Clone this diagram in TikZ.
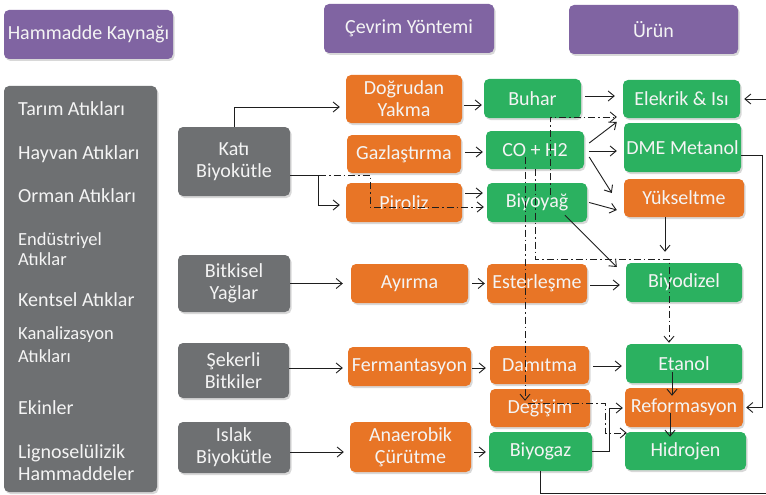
\documentclass[tikz,border=0pt]{standalone}
\usepackage{fontspec}
\setmainfont{Carlito}
\usetikzlibrary{arrows.meta,shadows}
\definecolor{hdr}{RGB}{128,100,162}
\definecolor{gry}{RGB}{110,112,114}
\definecolor{org}{RGB}{232,117,38}
\definecolor{grn}{RGB}{43,177,96}
\definecolor{txt}{RGB}{244,244,244}
\definecolor{lin}{RGB}{30,30,30}
\tikzset{
  box/.style={rounded corners=5pt, inner sep=0pt, align=center, text=txt,
    font=\fontsize{20}{22}\selectfont,
    drop shadow={shadow xshift=1.5pt, shadow yshift=-2pt, opacity=0.3}},
  hbox/.style={box, fill=hdr},
  gbox/.style={box, fill=gry},
  obox/.style={box, fill=org},
  gnbox/.style={box, fill=grn},
  arr/.style={draw=lin, line width=0.9pt, -{Straight Barb[length=6pt,width=10pt]}},
  dd/.style={arr, dash pattern=on 7pt off 3pt on 1.5pt off 3pt},
  item/.style={anchor=base west, text=txt, inner sep=0pt, font=\fontsize{20}{22}\selectfont},
  itemsm/.style={item, font=\fontsize{18.5}{20}\selectfont},
}
\begin{document}
\begin{tikzpicture}[x=1pt, y=-1pt]
\fill[white] (0,0) rectangle (766,495);
\useasboundingbox (0,0) rectangle (766,495);

% headers
\node[hbox, minimum width=169, minimum height=49] (hk) at (88.5,34.5) {Hammadde Kaynağı};
\node[hbox, minimum width=170, minimum height=49] (cy) at (409,28.5) {Çevrim Yöntemi};
\node[hbox, minimum width=169, minimum height=49] (ur) at (653.5,29.5) {Ürün};

% raw material list
\node[gbox, minimum width=153, minimum height=406] (list) at (80.5,289) {};
\node[item] (i1) at (18,115) {Tarım Atıkları};
\node[item] (i2) at (18,159) {Hayvan Atıkları};
\node[item] (i3) at (18,202) {Orman Atıkları};
\node[itemsm] (i4a) at (18,245) {Endüstriyel};
\node[itemsm] (i4b) at (18,265) {Atıklar};
\node[item] (i5) at (18,306) {Kentsel Atıklar};
\node[itemsm] (i6a) at (18,339) {Kanalizasyon};
\node[itemsm] (i6b) at (18,362) {Atıkları};
\node[item] (i7) at (18,414) {Ekinler};
\node[item] (i8a) at (18,458) {Lignoselülizik};
\node[item] (i8b) at (18,480) {Hammaddeler};

% sources
\node[gbox, minimum width=112, minimum height=69] (kati) at (234,161.5) {Katı\\Biyokütle};
\node[gbox, minimum width=112, minimum height=57] (bitk) at (234,283.5) {Bitkisel\\Yağlar};
\node[gbox, minimum width=111, minimum height=55] (seker) at (233.5,370.5) {Şekerli\\Bitkiler};
\node[gbox, minimum width=112, minimum height=51] (islak) at (234,447.5) {Islak\\Biyokütle};

% conversion (orange)
\node[obox, minimum width=116, minimum height=48] (dy) at (404,99) {Doğrudan\\Yakma};
\node[obox, minimum width=114, minimum height=38] (gaz) at (404,154) {Gazlaştırma};
\node[obox, minimum width=116, minimum height=39] (pir) at (404,202.5) {Piroliz};
\node[obox, minimum width=117, minimum height=39] (ayr) at (409.5,283.5) {Ayırma};
\node[obox, minimum width=123, minimum height=39] (ferm) at (409.5,366.5) {Fermantasyon};
\node[obox, minimum width=121, minimum height=50] (anae) at (410.5,447) {Anaerobik\\Çürütme};
\node[obox, minimum width=100, minimum height=39] (est) at (537,283.5) {Esterleşme};
\node[obox, minimum width=99, minimum height=38] (dam) at (539.5,365) {Damıtma};
\node[obox, minimum width=100, minimum height=38] (deg) at (540,408) {Değişim};
\node[obox, minimum width=120, minimum height=38] (yuk) at (684,198) {Yükseltme};
\node[obox, minimum width=118, minimum height=39] (ref) at (684,407.5) {Reformasyon};

% products (green)
\node[gnbox, minimum width=97, minimum height=39] (buh) at (532.5,98.5) {Buhar};
\node[gnbox, minimum width=98, minimum height=38] (co) at (535,150) {CO + H2};
\node[gnbox, minimum width=100, minimum height=39] (biyo) at (537,202.5) {Biyoyağ};
\node[gnbox, minimum width=103, minimum height=39] (biyogaz) at (540.5,451.5) {Biyogaz};
\node[gnbox, minimum width=117, minimum height=38] (ele) at (681.5,99) {Elekrik \& Isı};
\node[gnbox, minimum width=117, minimum height=49] (dme) at (682.5,147.5) {DME Metanol};
\node[gnbox, minimum width=116, minimum height=39] (bdz) at (684,282.5) {Biyodizel};
\node[gnbox, minimum width=116, minimum height=39] (eta) at (684,363.5) {Etanol};
\node[gnbox, minimum width=121, minimum height=38] (hid) at (685.5,451) {Hidrojen};

% solid connectors
\draw[arr] (kati.north) |- ([xshift=-6pt,yshift=-8pt]dy.west);
\draw[arr] ([yshift=-13.5pt]kati.east) -- ++(28,0) |- ([xshift=-6pt,yshift=-2.5pt]pir.west);
\draw[arr] ([xshift=2pt,yshift=-6pt]dy.east) -- ([xshift=-2pt,yshift=-6.5pt]buh.west);
\draw[arr] ([xshift=4pt,yshift=2pt]gaz.east) -- ([xshift=-3pt,yshift=-2pt]co.west);
\draw[arr] ([xshift=3pt,yshift=9.5pt]pir.east) -- ([xshift=-4pt,yshift=9.5pt]biyo.west);
\draw[arr] ([xshift=4pt,yshift=2.5pt]buh.east) -- ([xshift=-8pt,yshift=3pt]ele.west);
\draw[arr] ([xshift=5pt,yshift=7pt]co.east) -- ([xshift=-6pt,yshift=-23pt]ele.west);
\draw[arr] ([xshift=5pt,yshift=-1pt]co.east) -- ([xshift=-7pt,yshift=-3.5pt]dme.west);
\draw[arr] ([xshift=5pt,yshift=-7pt]co.east) -- ([xshift=-12pt,yshift=5pt]yuk.west);
\draw[arr] ([xshift=2pt]biyo.east) -- ([xshift=-7pt,yshift=-12pt]yuk.west);
\draw[arr] ([xshift=28pt,yshift=7pt]biyo.south) -- ([xshift=-9pt,yshift=15.5pt]bdz.west);
\draw[arr] ([xshift=-19pt]yuk.south) -- ([xshift=-19pt,yshift=11pt]bdz.north);
\draw[arr] ([xshift=3pt,yshift=-1.5pt]est.east) -- ([xshift=-6pt,yshift=-2.5pt]bdz.west);
\draw[arr] ([xshift=4pt]ayr.east) -- ([xshift=-2pt]est.west);
\draw[arr] (bitk.east) -- ([xshift=-8pt]ayr.west);
\draw[arr] ([yshift=2.5pt]seker.east) -- ([xshift=-5pt,yshift=-1.5pt]ferm.west);
\draw[arr] ([xshift=1pt,yshift=-1.5pt]ferm.east) -- ([xshift=-4pt,yshift=-3pt]dam.west);
\draw[arr] ([xshift=4pt,yshift=-1pt]dam.east) -- ([xshift=-4pt,yshift=-2.5pt]eta.west);
\draw[arr] ([yshift=-4.5pt]islak.east) -- ([xshift=-6pt,yshift=-5pt]anae.west);
\draw[arr] ([xshift=3pt,yshift=-5pt]anae.east) -- ([xshift=-3pt,yshift=-0.5pt]biyogaz.west);
\draw[arr] ([xshift=-12pt,yshift=-8.5pt]eta.center) -- ([xshift=-12pt,yshift=-8pt]ref.north);
\draw[arr] ([xshift=-14pt,yshift=-5.5pt]ref.center) -- ([xshift=-15.5pt,yshift=-5pt]hid.north);
\draw[arr] (biyogaz.east) -- ++(17,0) |- ([xshift=-2pt,yshift=-0.5pt]ref.west);
\draw[arr] ([yshift=-7.5pt]dme.east) -- ++(21,0) |- ([xshift=3pt]ref.east);
\draw[arr] ([xshift=-0.5pt]biyogaz.south) -- ++(0,22) -- ++(230,0) |- ([xshift=4pt]ele.east);

% dash-dot connectors
\draw[dd] ([yshift=-13.5pt]kati.east) -- ++(80,0) |- ([xshift=-3pt,yshift=-4.5pt]biyo.west);
\draw[dd] ([xshift=13pt,yshift=-12pt]biyo.north) |- ([xshift=-6pt,yshift=-18pt]ele.west);
\draw[dd] (co.south) -- ++(0,90) -| ([xshift=-15pt,yshift=1pt]eta.north);
\draw[dd] ([xshift=-10pt,yshift=-7pt]co.center) -- ([xshift=-15pt,yshift=-12pt]deg.north);
\draw[dd] ([xshift=-12pt,yshift=5pt]deg.center) -- ++(77,0) |- ([xshift=2pt,yshift=18pt]hid.west);
\end{tikzpicture}
\end{document}
